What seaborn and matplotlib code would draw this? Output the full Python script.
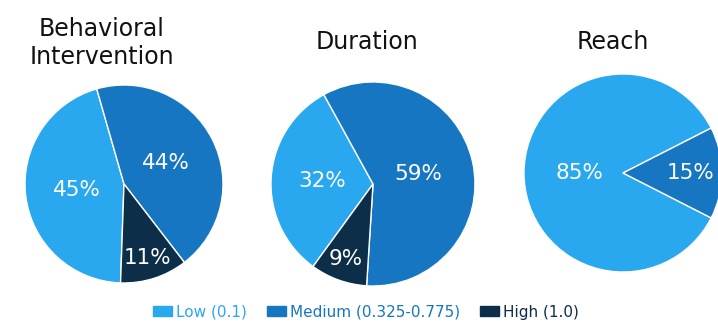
import matplotlib
matplotlib.use("Agg")
import matplotlib.pyplot as plt
import matplotlib.patches as mpatches
import seaborn as sns
import numpy as np

# Data
titles = ["Behavioral\nIntervention", "Duration", "Reach"]
categories = ["Low (0.1)", "Medium (0.325-0.775)", "High (1.0)"]
behavioral = [45, 44, 11]
duration = [32, 59, 9]
reach = [85, 15, 0]
all_values = [behavioral, duration, reach]

sns.set_theme(style="white")
plt.rcParams['font.family'] = ['DejaVu Sans']

colors = ["#29a8ef", "#1776c2", "#0c2e48"]

W, H = 718, 323
fig = plt.figure(figsize=(W / 100, H / 100), dpi=100)

# layout in pixels: (center x, center y, radius, start angle, label distances, title x, title y)
layout = [
    (124, 184, 99, -92, [0.48, 0.47, 0.78], 102, 43),
    (373, 184, 102, -126, [0.5, 0.45, 0.78], 367, 42),
    (623, 173, 99, -27, [0.44, 0.68, 0.6], 613, 42),
]

for vals, title, (cx, cy, r, start, dists, tx, ty) in zip(all_values, titles, layout):
    ax = fig.add_axes([(cx - r) / W, 1 - (cy + r) / H, 2 * r / W, 2 * r / H])
    vals_nz = [v for v in vals if v > 0]
    cols = [c for v, c in zip(vals, colors) if v > 0]
    wedges, _ = ax.pie(vals_nz, colors=cols, startangle=start, counterclock=False,
                       wedgeprops=dict(edgecolor="white", linewidth=1.0))
    for w, v, d in zip(wedges, vals_nz, dists):
        ang = np.deg2rad((w.theta1 + w.theta2) / 2)
        ax.text(d * np.cos(ang), d * np.sin(ang), f"{v}%", ha="center", va="center",
                color="white", fontsize=15.5)
    ax.set_xlim(-1, 1)
    ax.set_ylim(-1, 1)
    ax.set_aspect("equal")
    ax.axis("off")
    fig.text(tx / W, 1 - ty / H, title, ha="center", va="center", fontsize=17,
             color="#111111", linespacing=1.2)

handles = [mpatches.Patch(color=c, label=l) for c, l in zip(colors, categories)]
leg = fig.legend(handles=handles, loc="center", bbox_to_anchor=(366 / W, 1 - 312 / H),
                 ncol=3, frameon=False, fontsize=11, handlelength=1.25, handleheight=0.65,
                 handletextpad=0.25, columnspacing=1.3)
for txt, c in zip(leg.get_texts(), colors):
    txt.set_color(c)

fig.savefig("out.png", dpi=100)
